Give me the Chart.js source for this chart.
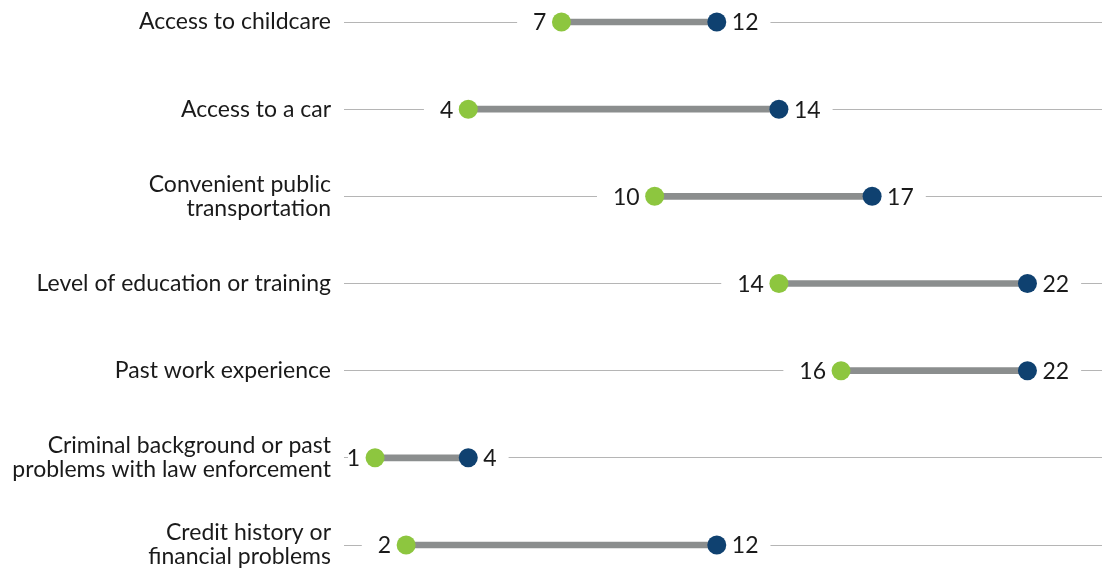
<!DOCTYPE html>
<html>
<head>
<meta charset="utf-8">
<script src="https://cdn.jsdelivr.net/npm/chart.js@4"></script>
<style>
    html, body { margin: 0; padding: 0; background: #fff; }
    #wrap { width: 1102px; height: 571px; position: relative; }
</style>
</head>
<body>
<div id="wrap"><canvas id="chart"></canvas></div>
<script>
// dane
const categories = [
    'Access to childcare',
    'Access to a car',
    ['Convenient public', 'transportation'],
    'Level of education or training',
    'Past work experience',
    ['Criminal background or past', 'problems with law enforcement'],
    ['Credit history or', 'financial problems']
];
const lowValues = [7, 4, 10, 14, 16, 1, 2];
const highValues = [12, 14, 17, 22, 22, 4, 12];

const GREEN = '#8dc63f';
const NAVY = '#0f4170';
const GREY = '#8b8e8e';
const valueFont = '23px Lato';

// przerwy w liniach siatki i etykiety wartości
const etykiety = {
    id: 'etykiety',
    beforeDatasetsDraw(chart) {
        const { ctx, chartArea, scales: { x, y } } = chart;
        ctx.save();
        ctx.font = valueFont;
        categories.forEach((c, i) => {
            const yy = y.getPixelForValue(i);
            const gx = x.getPixelForValue(lowValues[i]);
            const bx = x.getPixelForValue(highValues[i]);
            const lw = ctx.measureText(String(lowValues[i])).width;
            const hw = ctx.measureText(String(highValues[i])).width;
            const left = Math.max(chartArea.left + 4, gx - 15 - lw - 16);
            const right = bx + 15 + hw + 12;
            ctx.fillStyle = '#fff';
            ctx.fillRect(left, yy - 4, right - left, 8);
        });
        ctx.restore();
    },
    afterDatasetsDraw(chart) {
        const { ctx, scales: { x, y } } = chart;
        ctx.save();
        ctx.font = valueFont;
        ctx.fillStyle = '#1a1a1a';
        ctx.textBaseline = 'middle';
        categories.forEach((c, i) => {
            const yy = y.getPixelForValue(i) + 1;
            ctx.textAlign = 'right';
            ctx.fillText(String(lowValues[i]), x.getPixelForValue(lowValues[i]) - 15, yy);
            ctx.textAlign = 'left';
            ctx.fillText(String(highValues[i]), x.getPixelForValue(highValues[i]) + 15, yy);
        });
        ctx.restore();
    }
};

new Chart(document.getElementById('chart').getContext('2d'), {
    type: 'bar',
    data: {
        labels: categories,
        datasets: [
            {
                type: 'line',
                label: 'Low',
                data: lowValues,
                showLine: false,
                pointRadius: 9.5,
                pointHoverRadius: 9.5,
                pointBackgroundColor: GREEN,
                pointBorderColor: GREEN,
                pointBorderWidth: 0,
                clip: false,
                order: 1
            },
            {
                type: 'line',
                label: 'High',
                data: highValues,
                showLine: false,
                pointRadius: 9.5,
                pointHoverRadius: 9.5,
                pointBackgroundColor: NAVY,
                pointBorderColor: NAVY,
                pointBorderWidth: 0,
                clip: false,
                order: 1
            },
            {
                type: 'bar',
                label: 'Range',
                data: lowValues.map((v, i) => [v, highValues[i]]),
                backgroundColor: GREY,
                barThickness: 6,
                borderSkipped: false,
                clip: false,
                order: 2
            }
        ]
    },
    options: {
        indexAxis: 'y',
        responsive: true,
        maintainAspectRatio: false,
        animation: false,
        layout: { autoPadding: false, padding: { top: 22, bottom: 26, left: 0, right: 0 } },
        plugins: {
            legend: { display: false },
            tooltip: { enabled: false }
        },
        scales: {
            x: {
                display: false,
                min: 0,
                max: 24.4
            },
            y: {
                type: 'category',
                offset: false,
                border: { display: false },
                grid: {
                    offset: false,
                    color: '#b5b5b5',
                    lineWidth: 1,
                    drawTicks: false
                },
                ticks: {
                    padding: 13,
                    color: '#1a1a1a',
                    font: { family: 'Lato', size: 23, lineHeight: 1.05 }
                },
                afterFit(scale) {
                    scale.width = 344;
                    scale.paddingTop = 0;
                    scale.paddingBottom = 0;
                }
            }
        }
    },
    plugins: [etykiety]
});
</script>
</body>
</html>
